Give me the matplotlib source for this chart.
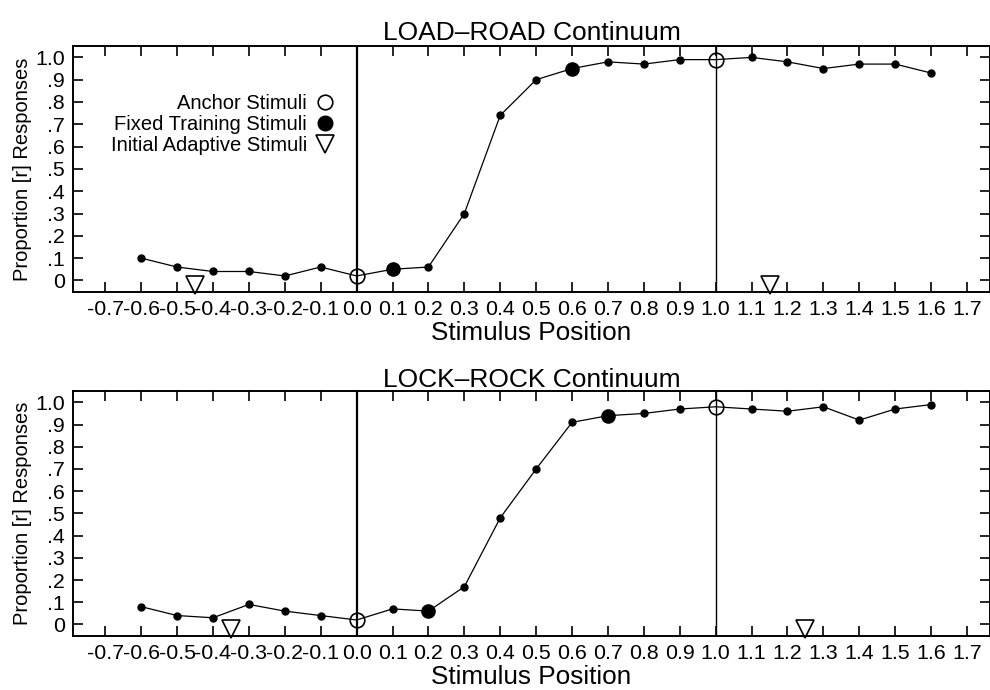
"""
Curvas de identificación /l/-/r/ para dos continuos (LOAD-ROAD y LOCK-ROCK).
"""
import numpy as np
import matplotlib
matplotlib.use("Agg")
import matplotlib.pyplot as plt
from matplotlib.lines import Line2D

plt.rcParams["font.family"] = ["Liberation Sans", "DejaVu Sans"]

# posiciones del estímulo
posiciones = [-0.6, -0.5, -0.4, -0.3, -0.2, -0.1, 0.0, 0.1, 0.2, 0.3, 0.4, 0.5,
              0.6, 0.7, 0.8, 0.9, 1.0, 1.1, 1.2, 1.3, 1.4, 1.5, 1.6]

# proporción de respuestas [r]
load_road = [0.10, 0.06, 0.04, 0.04, 0.02, 0.06, 0.02, 0.05, 0.06, 0.30, 0.74, 0.90,
             0.95, 0.98, 0.97, 0.99, 0.99, 1.00, 0.98, 0.95, 0.97, 0.97, 0.93]
lock_rock = [0.08, 0.04, 0.03, 0.09, 0.06, 0.04, 0.02, 0.07, 0.06, 0.17, 0.48, 0.70,
             0.91, 0.94, 0.95, 0.97, 0.98, 0.97, 0.96, 0.98, 0.92, 0.97, 0.99]

anclas = [0.0, 1.0]
fijos_load = [0.1, 0.6]
fijos_lock = [0.2, 0.7]
adaptativos_load = [-0.45, 1.15]
adaptativos_lock = [-0.35, 1.25]
nivel_adaptativo = -0.02

ticks_x = [-0.7, -0.6, -0.5, -0.4, -0.3, -0.2, -0.1, 0.0, 0.1, 0.2, 0.3, 0.4, 0.5,
           0.6, 0.7, 0.8, 0.9, 1.0, 1.1, 1.2, 1.3, 1.4, 1.5, 1.6, 1.7]
ticks_y = [0.0, 0.1, 0.2, 0.3, 0.4, 0.5, 0.6, 0.7, 0.8, 0.9, 1.0]
etiquetas_y = ["0", ".1", ".2", ".3", ".4", ".5", ".6", ".7", ".8", ".9", "1.0"]


def _valor(xs, ys, x):
    return ys[int(np.argmin(np.abs(np.array(xs) - x)))]


def _panel(ax, valores, fijos, adaptativos, titulo, pad_titulo):
    xs = np.array(posiciones)
    ys = np.array(valores)
    ax.axvline(0.0, color="black", lw=1.6, zorder=1)
    ax.axvline(1.0, color="black", lw=1.0, zorder=1)
    ax.plot(xs, ys, color="black", lw=0.9, zorder=2)

    especiales = set(np.round(anclas + fijos, 2))
    normales = [i for i, x in enumerate(xs) if round(x, 2) not in especiales]
    ax.plot(xs[normales], ys[normales], "o", color="black", ms=5, zorder=3)

    ax.plot(fijos, [_valor(xs, ys, x) for x in fijos], "o", color="black",
            ms=9.5, zorder=4)
    ax.plot(anclas, [_valor(xs, ys, x) for x in anclas], "o", mfc="none",
            mec="black", mew=1.2, ms=10.5, zorder=4)
    ax.plot(adaptativos, [nivel_adaptativo] * len(adaptativos), "v", mfc="none",
            mec="black", mew=1.2, ms=12.5, zorder=4, clip_on=False)

    ax.set_xlim(-0.79, 1.764)
    ax.set_ylim(-0.052, 1.051)
    ax.set_xticks(ticks_x)
    ax.set_xticklabels([f"{t:.1f}" for t in ticks_x])
    ax.set_yticks(ticks_y)
    ax.set_yticklabels(etiquetas_y)
    ax.tick_params(direction="in", length=7, width=1.2, labelsize=15.4,
                   top=True, right=True)
    ax.tick_params(axis="x", pad=6)
    ax.tick_params(axis="y", pad=6)
    for s in ax.spines.values():
        s.set_linewidth(1.4)
    ax.set_title(titulo, fontsize=19, pad=pad_titulo)
    ax.set_xlabel("Stimulus Position", fontsize=18.8, labelpad=1.5)
    ax.set_ylabel("Proportion [r] Responses", fontsize=14.5, labelpad=2)


fig = plt.figure(figsize=(9.9, 6.9), dpi=100)
ax1 = fig.add_axes([0.0737, 0.5768, 0.9263, 0.3565])
ax2 = fig.add_axes([0.0737, 0.0783, 0.9263, 0.3550])

_panel(ax1, load_road, fijos_load, adaptativos_load, "LOAD\u2013ROAD Continuum", 4)
_panel(ax2, lock_rock, fijos_lock, adaptativos_lock, "LOCK\u2013ROCK Continuum", 3)

manejadores = [
    Line2D([], [], ls="none", marker="o", mfc="none", mec="black", mew=1.2, ms=10.5),
    Line2D([], [], ls="none", marker="o", color="black", ms=10.5),
    Line2D([], [], ls="none", marker="v", mfc="none", mec="black", mew=1.2, ms=12.5),
]
ax1.legend(manejadores, ["Anchor Stimuli", "Fixed Training Stimuli",
                         "Initial Adaptive Stimuli"],
           loc="upper right", bbox_to_anchor=(0.2857, 0.805), frameon=False,
           markerfirst=False, fontsize=14.5, handlelength=1.0,
           handletextpad=0.4, labelspacing=0.1, borderpad=0, borderaxespad=0)

fig.savefig("out.png", dpi=100)
